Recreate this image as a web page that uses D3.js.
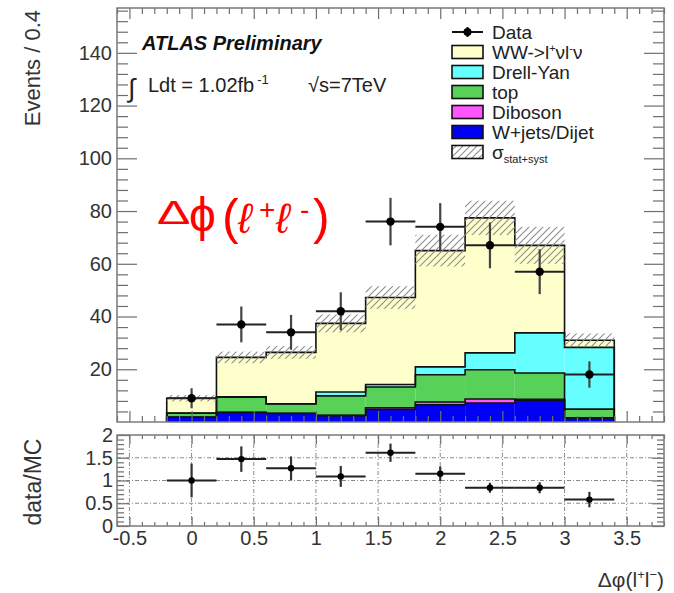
<!DOCTYPE html>
<html>
<head>
<meta charset="utf-8">
<script src="https://cdn.jsdelivr.net/npm/d3@7/dist/d3.min.js"></script>
<style>
  html, body { margin: 0; padding: 0; background: #fff; }
  svg { display: block; }
  text { font-family: "Liberation Sans", Arial, Helvetica, sans-serif; }
</style>
</head>
<body>
<svg id="chart" width="674" height="593"></svg>
<script>
// ---------------- data ----------------
const binCenters = [0.0, 0.4, 0.8, 1.2, 1.6, 2.0, 2.4, 2.8, 3.2];
const binWidth = 0.4;
const wjetsDijet = [1.8, 3.6, 3.2, 2.4, 4.8, 6.5, 7.2, 8.2, 1.5];
const diboson    = [0.1, 0.1, 0.1, 0.1, 0.6, 1.1, 1.5, 0.4, 0.1];
const topQuark   = [1.4, 5.7, 3.5, 7.4, 7.9, 10.3, 11.1, 10.0, 3.3];
const drellYan   = [0.1, 0.2, 0.1, 1.5, 0.9, 3.0, 6.4, 15.2, 23.4];
const wwSignal   = [5.6, 14.9, 19.5, 26.0, 33.0, 44.1, 51.2, 33.2, 2.7];
const mcErr      = [1.2, 2.2, 2.4, 3.4, 4.3, 6.0, 6.5, 7.0, 2.6];
const dataVals   = [9, 37, 34, 42, 76, 74, 67, 57, 18];
const dataErr    = [3.8, 6.8, 6.6, 7.2, 9.0, 9.0, 8.7, 8.5, 5.0];
const ratioVals  = [1.0, 1.47, 1.27, 1.09, 1.61, 1.15, 0.84, 0.84, 0.58];
const ratioErr   = [0.37, 0.28, 0.26, 0.23, 0.20, 0.16, 0.11, 0.12, 0.17];

const yTicksMain  = [20, 40, 60, 80, 100, 120, 140];
const yTicksRatio = [0, 0.5, 1, 1.5, 2];
const yTickRatioLabels = ["0", "0.5", "1", "1.5", "2"];
const xTicks      = [-0.5, 0, 0.5, 1, 1.5, 2, 2.5, 3, 3.5];
const xTickLabels = ["-0.5", "0", "0.5", "1", "1.5", "2", "2.5", "3", "3.5"];

const seriesKeys   = ["wjets", "diboson", "top", "dy", "ww"];
const seriesColors = { wjets: "#0000f5", diboson: "#ff55ff", top: "#57d157", dy: "#66ffff", ww: "#ffffcc" };
const legendItems = [
  { key: "data" },
  { key: "ww" },
  { key: "dy", label: "Drell-Yan" },
  { key: "top", label: "top" },
  { key: "diboson", label: "Diboson" },
  { key: "wjets", label: "W+jets/Dijet" },
  { key: "syst" }
];

// ---------------- layout ----------------
const L = 117, R = 664;
const mainTop = 8, mainBot = 422;
const ratTop = 435, ratBot = 526;

const svg = d3.select("#chart");
const x  = d3.scaleLinear().domain([-0.6, 3.8]).range([L, R]);
const y  = d3.scaleLinear().domain([0, 157]).range([mainBot, mainTop]);
const yr = d3.scaleLinear().domain([0, 2]).range([ratBot, ratTop]);

// hatch pattern
const defs = svg.append("defs");
const pat = defs.append("pattern").attr("id", "hatch")
  .attr("patternUnits", "userSpaceOnUse").attr("width", 7).attr("height", 7);
pat.append("path").attr("d", "M0,7 L7,0 M-1.5,1.5 L1.5,-1.5 M5.5,8.5 L8.5,5.5")
  .attr("stroke", "#8c8c8c").attr("stroke-width", 1.1);
defs.append("clipPath").attr("id", "clipMain").append("rect")
  .attr("x", L).attr("y", mainTop).attr("width", R - L).attr("height", mainBot - mainTop);

// ---------------- stacked histogram ----------------
const table = binCenters.map((c, i) => ({
  c, wjets: wjetsDijet[i], diboson: diboson[i], top: topQuark[i], dy: drellYan[i], ww: wwSignal[i]
}));
const stacked = d3.stack().keys(seriesKeys)(table);

const gMain = svg.append("g").attr("clip-path", "url(#clipMain)");

stacked.forEach(s => {
  gMain.append("g").selectAll("rect").data(s).join("rect")
    .attr("x", d => x(d.data.c - binWidth / 2))
    .attr("width", d => x(d.data.c + binWidth / 2) - x(d.data.c - binWidth / 2))
    .attr("y", d => y(d[1]))
    .attr("height", d => y(d[0]) - y(d[1]))
    .attr("fill", seriesColors[s.key]);
});

// outlines of each cumulative histogram
const stepLine = d3.line().x(p => x(p[0])).y(p => y(p[1]));
stacked.forEach(s => {
  const pts = [[binCenters[0] - binWidth / 2, 0]];
  s.forEach(d => {
    pts.push([d.data.c - binWidth / 2, d[1]]);
    pts.push([d.data.c + binWidth / 2, d[1]]);
  });
  pts.push([binCenters[binCenters.length - 1] + binWidth / 2, 0]);
  gMain.append("path").attr("d", stepLine(pts))
    .attr("fill", "none").attr("stroke", "#111").attr("stroke-width", 1.6);
});

// uncertainty band
const totals = stacked[stacked.length - 1].map(d => d[1]);
gMain.append("g").selectAll("rect").data(binCenters).join("rect")
  .attr("x", (c) => x(c - binWidth / 2))
  .attr("width", (c) => x(c + binWidth / 2) - x(c - binWidth / 2))
  .attr("y", (c, i) => y(totals[i] + mcErr[i]))
  .attr("height", (c, i) => y(totals[i] - mcErr[i]) - y(totals[i] + mcErr[i]))
  .attr("fill", "url(#hatch)");

// data points
const gData = gMain.append("g");
binCenters.forEach((c, i) => {
  gData.append("line")
    .attr("x1", x(c)).attr("x2", x(c))
    .attr("y1", y(dataVals[i] - dataErr[i])).attr("y2", y(dataVals[i] + dataErr[i]))
    .attr("stroke", "#444").attr("stroke-width", 2.2);
  gData.append("line")
    .attr("x1", x(c - binWidth / 2)).attr("x2", x(c + binWidth / 2))
    .attr("y1", y(dataVals[i])).attr("y2", y(dataVals[i]))
    .attr("stroke", "#222").attr("stroke-width", 2);
  gData.append("circle").attr("cx", x(c)).attr("cy", y(dataVals[i])).attr("r", 4.2).attr("fill", "#000");
});

// ---------------- axes helpers ----------------
const tickColor = "#6e6e6e";
const xMinor = d3.range(-6, 39).map(i => i / 10).filter(v => Math.abs(v * 2 - Math.round(v * 2)) > 1e-6);
const yMinorMain = d3.range(4, 157, 4).filter(v => v % 20 !== 0);
const yMinorRatio = d3.range(1, 20).map(i => i / 10).filter(v => Math.abs(v * 2 - Math.round(v * 2)) > 1e-6);

function styleAxis(g, showText) {
  g.select(".domain").remove();
  g.selectAll(".tick line").attr("stroke", tickColor).attr("stroke-width", 1.2);
  if (!showText) g.selectAll(".tick text").remove();
  else g.selectAll(".tick text").attr("fill", "#333").attr("font-size", 20)
        .attr("font-family", "'Liberation Sans', Arial, sans-serif");
}
function addAxis(axisGen, tx, ty, showText) {
  const g = svg.append("g").attr("transform", `translate(${tx},${ty})`).call(axisGen);
  styleAxis(g, showText);
  return g;
}

// ---------------- main frame ticks ----------------
addAxis(d3.axisBottom(x).tickValues(xTicks).tickSize(-11).tickSizeOuter(0).tickFormat(""), 0, mainBot, false);
addAxis(d3.axisBottom(x).tickValues(xMinor).tickSize(-6).tickSizeOuter(0).tickFormat(""), 0, mainBot, false);
addAxis(d3.axisTop(x).tickValues(xTicks).tickSize(-11).tickSizeOuter(0).tickFormat(""), 0, mainTop, false);
addAxis(d3.axisTop(x).tickValues(xMinor).tickSize(-6).tickSizeOuter(0).tickFormat(""), 0, mainTop, false);
addAxis(d3.axisLeft(y).tickValues(yTicksMain).tickSize(-20).tickSizeOuter(0).tickPadding(5).tickFormat(d3.format("d")), L, 0, true);
addAxis(d3.axisLeft(y).tickValues(yMinorMain).tickSize(-11).tickSizeOuter(0).tickFormat(""), L, 0, false);
addAxis(d3.axisRight(y).tickValues(yTicksMain).tickSize(-20).tickSizeOuter(0).tickFormat(""), R, 0, false);
addAxis(d3.axisRight(y).tickValues(yMinorMain).tickSize(-11).tickSizeOuter(0).tickFormat(""), R, 0, false);

svg.append("rect").attr("x", L).attr("y", mainTop).attr("width", R - L).attr("height", mainBot - mainTop)
  .attr("fill", "none").attr("stroke", "#7a7a7a").attr("stroke-width", 1.5);

// ---------------- ratio panel ----------------
const gRat = svg.append("g");
gRat.append("g").selectAll("line").data(xTicks).join("line")
  .attr("x1", d => x(d)).attr("x2", d => x(d)).attr("y1", ratTop).attr("y2", ratBot)
  .attr("stroke", "#8a8a8a").attr("stroke-width", 1).attr("stroke-dasharray", "4,2,1,2");
gRat.append("g").selectAll("line").data(yTicksRatio.slice(1, 4)).join("line")
  .attr("x1", L).attr("x2", R).attr("y1", d => yr(d)).attr("y2", d => yr(d))
  .attr("stroke", "#8a8a8a").attr("stroke-width", 1).attr("stroke-dasharray", "4,2,1,2");

binCenters.forEach((c, i) => {
  gRat.append("line")
    .attr("x1", x(c)).attr("x2", x(c))
    .attr("y1", yr(ratioVals[i] - ratioErr[i])).attr("y2", yr(ratioVals[i] + ratioErr[i]))
    .attr("stroke", "#333").attr("stroke-width", 2.2);
  gRat.append("line")
    .attr("x1", x(c - binWidth / 2)).attr("x2", x(c + binWidth / 2))
    .attr("y1", yr(ratioVals[i])).attr("y2", yr(ratioVals[i]))
    .attr("stroke", "#222").attr("stroke-width", 2);
  gRat.append("circle").attr("cx", x(c)).attr("cy", yr(ratioVals[i])).attr("r", 3.2).attr("fill", "#000");
});

addAxis(d3.axisBottom(x).tickValues(xTicks).tickSize(-9).tickSizeOuter(0).tickPadding(5)
  .tickFormat((d, i) => xTickLabels[i]), 0, ratBot, true);
addAxis(d3.axisBottom(x).tickValues(xMinor).tickSize(-4).tickSizeOuter(0).tickFormat(""), 0, ratBot, false);
addAxis(d3.axisTop(x).tickValues(xTicks).tickSize(-9).tickSizeOuter(0).tickFormat(""), 0, ratTop, false);
addAxis(d3.axisTop(x).tickValues(xMinor).tickSize(-4).tickSizeOuter(0).tickFormat(""), 0, ratTop, false);
addAxis(d3.axisLeft(yr).tickValues(yTicksRatio).tickSize(-12).tickSizeOuter(0).tickPadding(4)
  .tickFormat((d, i) => yTickRatioLabels[i]), L, 0, true);
addAxis(d3.axisLeft(yr).tickValues(yMinorRatio).tickSize(-7).tickSizeOuter(0).tickFormat(""), L, 0, false);
addAxis(d3.axisRight(yr).tickValues(yTicksRatio).tickSize(-12).tickSizeOuter(0).tickFormat(""), R, 0, false);
addAxis(d3.axisRight(yr).tickValues(yMinorRatio).tickSize(-7).tickSizeOuter(0).tickFormat(""), R, 0, false);

svg.append("rect").attr("x", L).attr("y", ratTop).attr("width", R - L).attr("height", ratBot - ratTop)
  .attr("fill", "none").attr("stroke", "#7a7a7a").attr("stroke-width", 1.5);

// ---------------- axis titles ----------------
svg.append("text").attr("transform", "translate(40,10) rotate(-90)")
  .attr("text-anchor", "end").attr("font-size", 22).attr("fill", "#333").text("Events / 0.4");
svg.append("text").attr("transform", "translate(41,482) rotate(-90)")
  .attr("text-anchor", "middle").attr("font-size", 23).attr("fill", "#333").text("data/MC");

const xt = svg.append("text").attr("x", R).attr("y", 587).attr("text-anchor", "end")
  .attr("font-size", 21).attr("fill", "#333");
xt.append("tspan").text("Δφ(l");
xt.append("tspan").attr("dy", -8).attr("font-size", 13).text("+");
xt.append("tspan").attr("dy", 8).text("l");
xt.append("tspan").attr("dy", -8).attr("font-size", 13).text("−");
xt.append("tspan").attr("dy", 8).text(")");

// ---------------- labels in plot ----------------
svg.append("text").attr("x", 142).attr("y", 50).attr("font-size", 20)
  .attr("font-weight", "bold").attr("font-style", "italic").attr("fill", "#111").text("ATLAS Preliminary");

svg.append("text").attr("x", 128).attr("y", 97).attr("font-size", 26).attr("fill", "#222")
  .attr("font-family", "'DejaVu Sans', sans-serif").text("∫");
const lumi = svg.append("text").attr("x", 148).attr("y", 92).attr("font-size", 20).attr("fill", "#222");
lumi.append("tspan").text("Ldt = 1.02fb");
lumi.append("tspan").attr("dx", 3).attr("dy", -8).attr("font-size", 13).text("-1");
svg.append("text").attr("x", 308).attr("y", 92).attr("font-size", 20).attr("fill", "#222").text("√s=7TeV");

// red annotation (pieces placed individually)
const redParts = [
  { t: "Δ", x: 157, y: 224, fs: 40, sx: 1.25, sy: 0.82 },
  { t: "ϕ", x: 189, y: 231, fs: 48 },
  { t: "(", x: 222, y: 234, fs: 50 },
  { t: "ℓ", x: 238, y: 233, fs: 42, script: true },
  { t: "+", x: 259, y: 219, fs: 28 },
  { t: "ℓ", x: 276, y: 233, fs: 42, script: true },
  { t: "-", x: 300, y: 219, fs: 28 },
  { t: ")", x: 313, y: 234, fs: 50 }
];
const gRed = svg.append("g").attr("fill", "#ff0000");
redParts.forEach(p => {
  const t = gRed.append("text")
    .attr("transform", `translate(${p.x},${p.y}) scale(${p.sx || 1},${p.sy || 1})`)
    .attr("font-size", p.fs)
    .attr("font-family", p.script ? "'Liberation Serif', 'DejaVu Serif', serif" : "'Open Sans', 'Liberation Sans', sans-serif")
    .text(p.t);
  if (p.script) t.attr("font-style", "italic");
});

// ---------------- legend ----------------
const lg = svg.append("g");
const boxX = 452, boxW = 31, boxH = 13, textX = 492;
legendItems.forEach((it, i) => {
  const cy = 32 + i * 20;
  if (it.key === "data") {
    lg.append("line").attr("x1", boxX).attr("x2", boxX + boxW).attr("y1", cy).attr("y2", cy)
      .attr("stroke", "#111").attr("stroke-width", 2);
    lg.append("line").attr("x1", boxX + boxW / 2).attr("x2", boxX + boxW / 2).attr("y1", cy - 5).attr("y2", cy + 5)
      .attr("stroke", "#111").attr("stroke-width", 2);
    lg.append("circle").attr("cx", boxX + boxW / 2).attr("cy", cy).attr("r", 4).attr("fill", "#000");
    lg.append("text").attr("x", textX).attr("y", cy + 7).attr("font-size", 19).attr("fill", "#222").text("Data");
    return;
  }
  lg.append("rect").attr("x", boxX).attr("y", cy - boxH / 2).attr("width", boxW).attr("height", boxH)
    .attr("fill", it.key === "syst" ? "url(#hatch)" : seriesColors[it.key])
    .attr("stroke", "#111").attr("stroke-width", 1.6);
  const t = lg.append("text").attr("x", textX).attr("y", cy + 7).attr("font-size", 19).attr("fill", "#222");
  if (it.key === "ww") {
    t.append("tspan").text("WW->l");
    t.append("tspan").attr("dy", -7).attr("font-size", 11).text("+");
    t.append("tspan").attr("dy", 7).text("νl");
    t.append("tspan").attr("dy", -7).attr("font-size", 11).text("-");
    t.append("tspan").attr("dy", 7).text("ν");
  } else if (it.key === "syst") {
    t.append("tspan").text("σ");
    t.append("tspan").attr("dy", 4).attr("font-size", 11).text("stat+syst");
  } else {
    t.text(it.label);
  }
});
</script>
</body>
</html>
